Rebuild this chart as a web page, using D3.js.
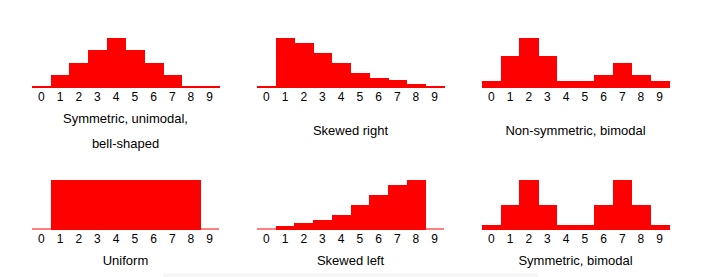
<!DOCTYPE html>
<html>
<head>
<meta charset="utf-8">
<script src="https://cdn.jsdelivr.net/npm/d3@7"></script>
<style>
  body { margin: 0; background: #fff; }
  text { font-family: "Liberation Sans", Arial, sans-serif; fill: #000; }
</style>
</head>
<body>
<svg id="chart" width="717" height="277"></svg>
<script>
// bins 0..9
var categories = ["0", "1", "2", "3", "4", "5", "6", "7", "8", "9"];

var symUnimodal   = [0.15, 1, 2, 3, 4, 3, 2, 1, 0.15, 0.15];
var skewedRight   = [0.1, 4, 3.6, 2.8, 2, 1.2, 0.8, 0.6, 0.3, 0.1];
var nonSymBimodal = [0.5, 2.5, 4, 2.5, 0.5, 0.5, 1, 2, 1, 0.5];
var uniform       = [0, 4, 4, 4, 4, 4, 4, 4, 4, 0];
var skewedLeft    = [0, 0.27, 0.5, 0.75, 1.15, 1.95, 2.75, 3.55, 4, 0];
var symBimodal    = [0.4, 2, 4, 2, 0.4, 0.4, 2, 4, 2, 0.4];

var titles = [
    ["Symmetric, unimodal,", "bell-shaped"],
    ["Skewed right"],
    ["Non-symmetric, bimodal"],
    ["Uniform"],
    ["Skewed left"],
    ["Symmetric, bimodal"]
];
var seriesList = [symUnimodal, skewedRight, nonSymBimodal, uniform, skewedLeft, symBimodal];

var svg = d3.select("#chart");

// faint strip at the bottom of the picture
svg.append("rect")
    .attr("x", 163).attr("y", 273.5)
    .attr("width", 375).attr("height", 4)
    .attr("fill", "#f6f6f6");

var panelLeft = [32, 257, 482],
    rowBottom = [87.5, 229.5],
    panelWidth = 187,
    barMax = 50;

seriesList.forEach(function (values, i) {
    var left = panelLeft[i % 3],
        row = Math.floor(i / 3),
        bottom = rowBottom[row];

    var x = d3.scaleBand().domain(categories).range([left, left + panelWidth]).padding(0);
    var y = d3.scaleLinear().domain([0, 4]).range([bottom, bottom - barMax]);

    var g = svg.append("g").attr("class", "panel");

    g.selectAll(".bar")
        .data(values)
        .enter().append("rect")
        .attr("class", "bar")
        .attr("x", function (d, j) { return x(categories[j]); })
        .attr("width", x.bandwidth() + 0.6)
        .attr("y", function (d) { return y(d); })
        .attr("height", function (d) { return bottom - y(d); })
        .attr("fill", "#ff0000")
        .attr("shape-rendering", "crispEdges");

    // baseline
    g.append("line")
        .attr("x1", left).attr("x2", left + panelWidth)
        .attr("y1", bottom - 0.5).attr("y2", bottom - 0.5)
        .attr("stroke", "#ff0000")
        .attr("stroke-width", 1);

    var axis = g.append("g")
        .attr("transform", "translate(0," + bottom + ")")
        .call(d3.axisBottom(x).tickSize(0).tickPadding(5));
    axis.select(".domain").remove();
    axis.selectAll("text")
        .style("font-family", "'Liberation Sans', Arial, sans-serif")
        .style("font-size", "12px")
        .attr("fill", "#000");

    // single-line titles in the top row sit centred against the two-line one
    var offset = (row === 0 && titles[i].length === 1) ? 12.5 : 0;
    titles[i].forEach(function (t, k) {
        g.append("text")
            .attr("x", left + panelWidth / 2)
            .attr("y", bottom + 35 + offset + k * 25)
            .attr("text-anchor", "middle")
            .style("font-size", "13px")
            .text(t);
    });
});
</script>
</body>
</html>
